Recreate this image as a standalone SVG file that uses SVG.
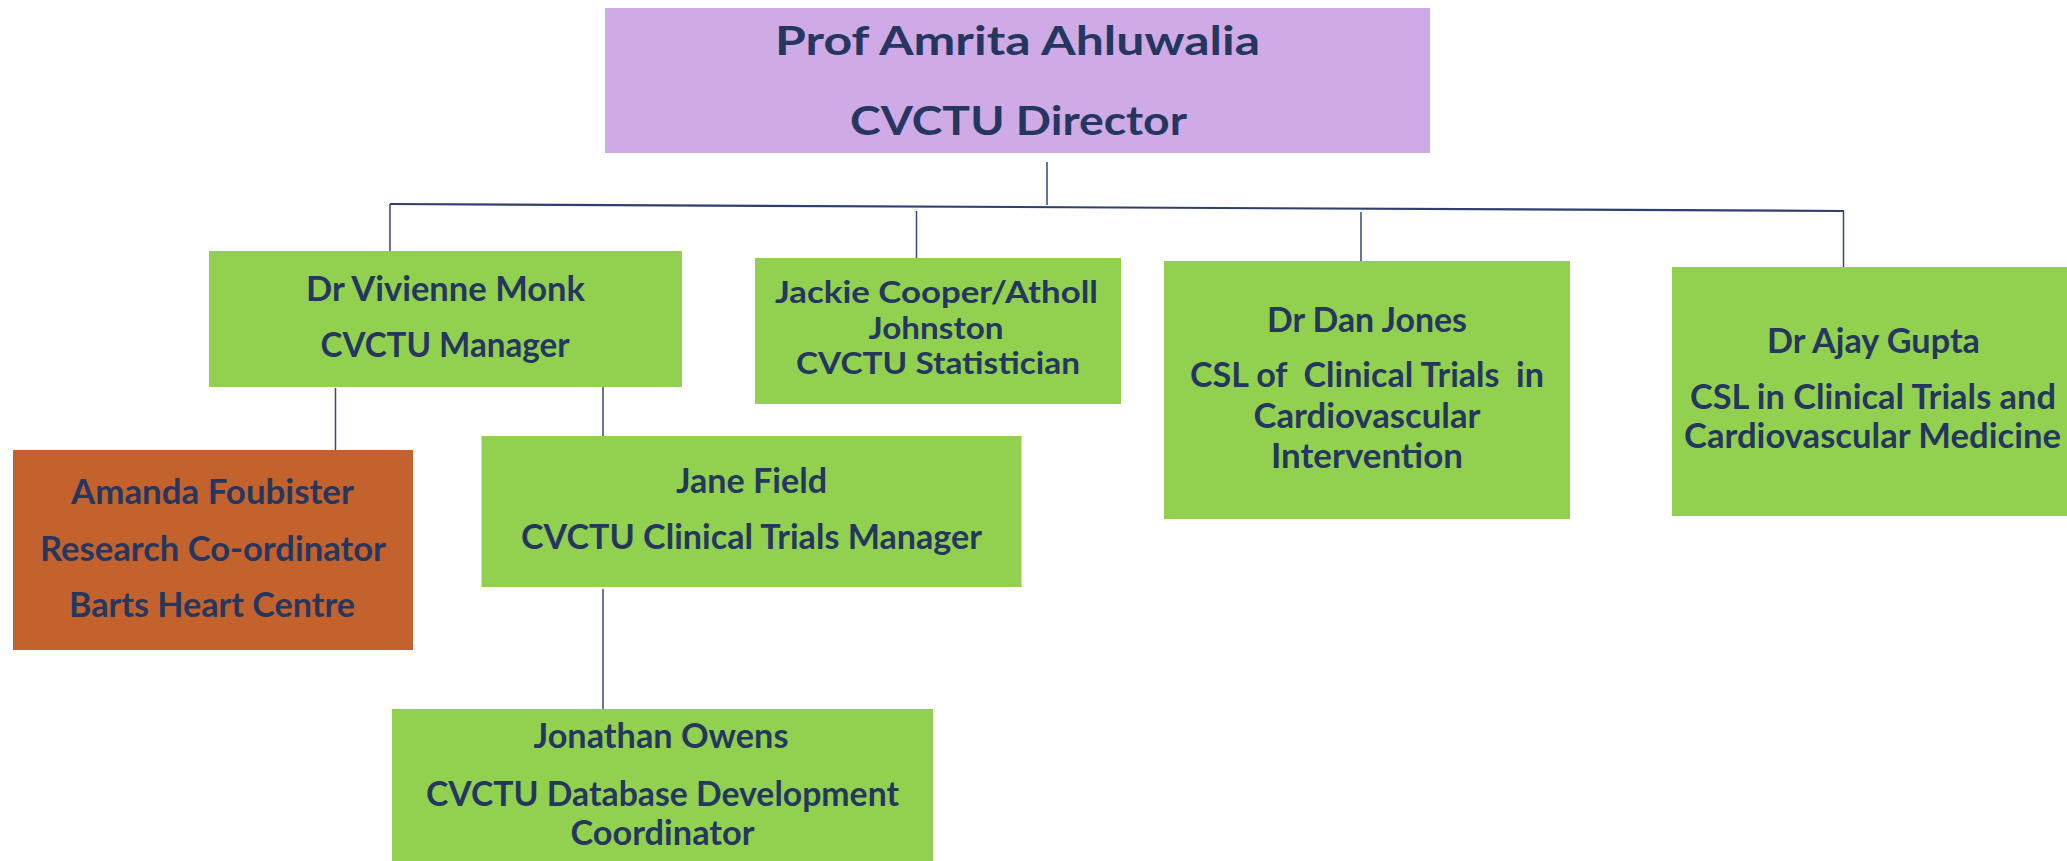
<svg xmlns="http://www.w3.org/2000/svg" width="2067" height="861" viewBox="0 0 2067 861">
<style>
.bg{fill:#ffffff}
.green{fill:#92D050}
.orange{fill:#C4622D}
.lav{fill:#CEAAE6}
.t{font-family:Lato,"Liberation Sans",sans-serif;font-weight:bold;fill:#26375F;text-anchor:middle}
.s{font-size:33.5px}
.j{font-size:30px}
.l{font-size:41px}
.c{stroke:#34477A;stroke-width:1.5;fill:none}
.h{stroke:#2E3F70;stroke-width:2.2;fill:none}
</style>
<rect class="bg" x="0" y="0" width="2067" height="861"/>
<g id="connectors">
<line class="c" x1="1047" y1="162" x2="1047" y2="205"/>
<line class="h" x1="390" y1="204" x2="1844" y2="211"/>
<line class="c" x1="390" y1="204" x2="390" y2="251"/>
<line class="c" x1="916.5" y1="211" x2="916.5" y2="258"/>
<line class="c" x1="1361" y1="212" x2="1361" y2="261"/>
<line class="c" x1="1843.5" y1="211" x2="1843.5" y2="267"/>
<line class="c" x1="335.5" y1="388" x2="335.5" y2="451"/>
<line class="c" x1="603" y1="384" x2="603" y2="436"/>
<line class="c" x1="603" y1="589" x2="603" y2="709"/>
</g>
<g id="director">
<rect class="lav" x="605" y="8" width="825" height="145"/>
<text class="t l" x="1017.5" y="55" textLength="485" lengthAdjust="spacingAndGlyphs">Prof Amrita Ahluwalia</text>
<text class="t l" x="1018.5" y="135" textLength="337" lengthAdjust="spacingAndGlyphs">CVCTU Director</text>
</g>
<g id="monk">
<rect class="green" x="209" y="251" width="473" height="136"/>
<text class="t s" x="445.5" y="300.7" textLength="279" lengthAdjust="spacingAndGlyphs">Dr Vivienne Monk</text>
<text class="t s" x="445" y="356.7" textLength="249" lengthAdjust="spacingAndGlyphs">CVCTU Manager</text>
</g>
<g id="cooper">
<rect class="green" x="755" y="258" width="366" height="146"/>
<text class="t j" x="936.5" y="303" textLength="323" lengthAdjust="spacingAndGlyphs">Jackie Cooper/Atholl</text>
<text class="t j" x="936" y="339" textLength="135" lengthAdjust="spacingAndGlyphs">Johnston</text>
<text class="t j" x="938" y="374" textLength="284" lengthAdjust="spacingAndGlyphs">CVCTU Statistician</text>
</g>
<g id="jones">
<rect class="green" x="1164" y="261" width="406" height="258"/>
<text class="t s" x="1367" y="332" textLength="200" lengthAdjust="spacingAndGlyphs">Dr Dan Jones</text>
<text class="t s" x="1367" y="387" textLength="354" lengthAdjust="spacingAndGlyphs" xml:space="preserve">CSL of  Clinical Trials  in</text>
<text class="t s" x="1367" y="428" textLength="227" lengthAdjust="spacingAndGlyphs">Cardiovascular</text>
<text class="t s" x="1367" y="468" textLength="192" lengthAdjust="spacingAndGlyphs">Intervention</text>
</g>
<g id="gupta">
<rect class="green" x="1672" y="267" width="410" height="249"/>
<text class="t s" x="1873.5" y="353" textLength="213" lengthAdjust="spacingAndGlyphs">Dr Ajay Gupta</text>
<text class="t s" x="1873" y="409" textLength="366" lengthAdjust="spacingAndGlyphs">CSL in Clinical Trials and</text>
<text class="t s" x="1872.5" y="448" textLength="377" lengthAdjust="spacingAndGlyphs">Cardiovascular Medicine</text>
</g>
<g id="foubister">
<rect class="orange" x="13" y="450" width="400" height="200"/>
<text class="t s" x="212.5" y="504" textLength="283" lengthAdjust="spacingAndGlyphs">Amanda Foubister</text>
<text class="t s" x="213" y="561" textLength="346" lengthAdjust="spacingAndGlyphs">Research Co-ordinator</text>
<text class="t s" x="212" y="617" textLength="286" lengthAdjust="spacingAndGlyphs">Barts Heart Centre</text>
</g>
<g id="field">
<rect class="green" x="481.5" y="436" width="540" height="151"/>
<text class="t s" x="751.5" y="493" textLength="151" lengthAdjust="spacingAndGlyphs">Jane Field</text>
<text class="t s" x="751.5" y="549" textLength="461" lengthAdjust="spacingAndGlyphs">CVCTU Clinical Trials Manager</text>
</g>
<g id="owens">
<rect class="green" x="392" y="709" width="541" height="160"/>
<text class="t s" x="661" y="748" textLength="255" lengthAdjust="spacingAndGlyphs">Jonathan Owens</text>
<text class="t s" x="662.5" y="805.7" textLength="473" lengthAdjust="spacingAndGlyphs">CVCTU Database Development</text>
<text class="t s" x="662.5" y="845" textLength="184" lengthAdjust="spacingAndGlyphs">Coordinator</text>
</g>
</svg>
